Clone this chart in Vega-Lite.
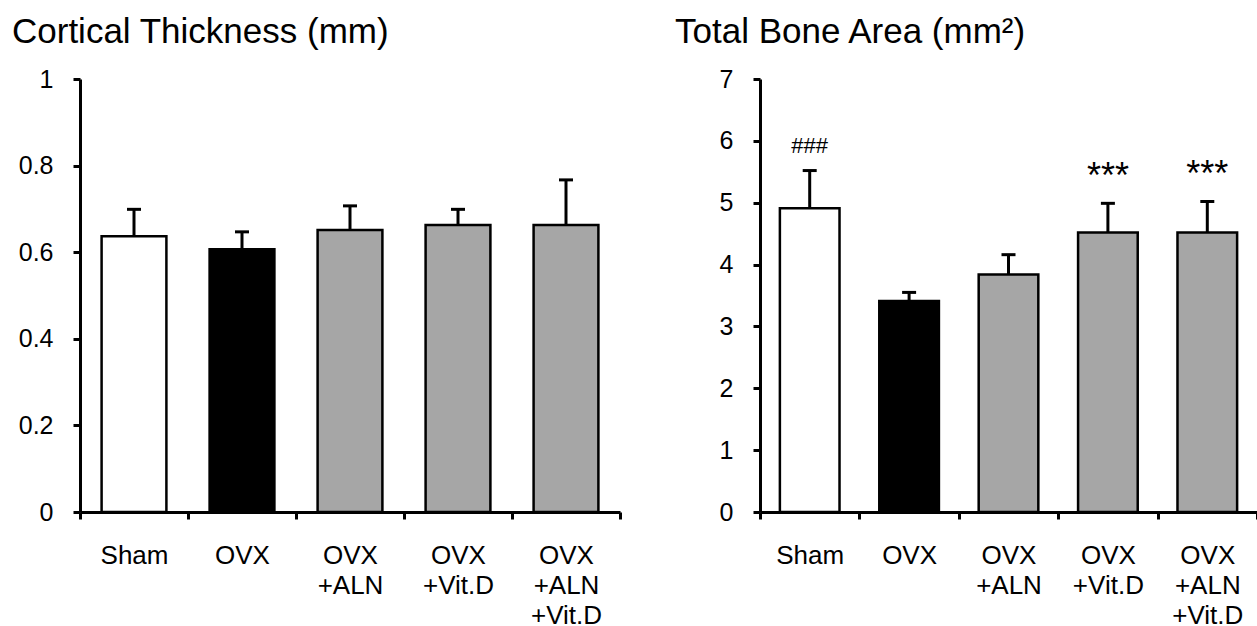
{
  "$schema": "https://vega.github.io/schema/vega-lite/v6.json",
  "padding": {"left": 12, "top": 15, "right": 0, "bottom": 0},
  "background": "white",
  "datasets": {
    "thickness": [
      {"group": "Sham", "mean": 0.637, "err": 0.699},
      {"group": "OVX", "mean": 0.607, "err": 0.647},
      {"group": "OVX\n+ALN", "mean": 0.651, "err": 0.707},
      {"group": "OVX\n+Vit.D", "mean": 0.663, "err": 0.699},
      {"group": "OVX\n+ALN\n+Vit.D", "mean": 0.663, "err": 0.767}
    ],
    "area": [
      {"group": "Sham", "mean": 4.91, "err": 5.52, "sig": "###"},
      {"group": "OVX", "mean": 3.41, "err": 3.55, "sig": ""},
      {"group": "OVX\n+ALN", "mean": 3.84, "err": 4.16, "sig": ""},
      {"group": "OVX\n+Vit.D", "mean": 4.52, "err": 4.99, "sig": "***"},
      {"group": "OVX\n+ALN\n+Vit.D", "mean": 4.52, "err": 5.02, "sig": "***"}
    ]
  },
  "config": {
    "font": "Liberation Sans",
    "view": {"stroke": null},
    "axis": {
      "grid": false,
      "domainColor": "black",
      "domainWidth": 3,
      "tickColor": "black",
      "tickWidth": 3,
      "tickSize": 7,
      "labelColor": "black",
      "labelFont": "Liberation Sans",
      "labelFontSize": 25,
      "title": null
    },
    "title": {
      "fontSize": 35,
      "fontWeight": "normal",
      "font": "Liberation Sans",
      "color": "black",
      "anchor": "start",
      "frame": "group",
      "baseline": "alphabetic"
    }
  },
  "spacing": 53,
  "hconcat": [
    {
      "width": 540,
      "height": 433,
      "title": {"text": "Cortical Thickness (mm)", "dx": -68, "offset": 17},
      "data": {"name": "thickness"},
      "encoding": {
        "x": {
          "field": "group",
          "type": "nominal",
          "sort": null,
          "scale": {"paddingInner": 0, "paddingOuter": 0},
          "axis": {
            "labelAngle": 0,
            "tickBand": "extent",
            "labelExpr": "split(datum.label, '\\n')",
            "labelFontSize": 26,
            "labelPadding": 23,
            "labelLineHeight": 30,
            "labelBaseline": "top"
          }
        }
      },
      "layer": [
        {
          "mark": {"type": "rule", "strokeWidth": 3, "color": "black"},
          "encoding": {
            "y": {"field": "mean", "type": "quantitative"},
            "y2": {"field": "err"}
          }
        },
        {
          "mark": {"type": "tick", "size": 14, "thickness": 3, "color": "black", "opacity": 1},
          "encoding": {
            "y": {"field": "err", "type": "quantitative"}
          }
        },
        {
          "mark": {"type": "bar", "width": {"band": 0.6}, "stroke": "black", "strokeWidth": 2.5},
          "encoding": {
            "y": {
              "field": "mean",
              "type": "quantitative",
              "scale": {"domain": [0, 1], "nice": false},
              "axis": {"values": [0, 0.2, 0.4, 0.6, 0.8, 1], "format": "~g", "labelPadding": 20}
            },
            "color": {
              "field": "group",
              "type": "nominal",
              "legend": null,
              "scale": {
                "domain": ["Sham", "OVX", "OVX\n+ALN", "OVX\n+Vit.D", "OVX\n+ALN\n+Vit.D"],
                "range": ["#ffffff", "#000000", "#a6a6a6", "#a6a6a6", "#a6a6a6"]
              }
            }
          }
        }
      ]
    },
    {
      "width": 497,
      "height": 433,
      "title": {"text": "Total Bone Area (mm²)", "dx": -85, "offset": 17},
      "data": {"name": "area"},
      "encoding": {
        "x": {
          "field": "group",
          "type": "nominal",
          "sort": null,
          "scale": {"paddingInner": 0, "paddingOuter": 0},
          "axis": {
            "labelAngle": 0,
            "tickBand": "extent",
            "labelExpr": "split(datum.label, '\\n')",
            "labelFontSize": 26,
            "labelPadding": 23,
            "labelLineHeight": 30,
            "labelBaseline": "top"
          }
        }
      },
      "layer": [
        {
          "mark": {"type": "rule", "strokeWidth": 3, "color": "black"},
          "encoding": {
            "y": {"field": "mean", "type": "quantitative"},
            "y2": {"field": "err"}
          }
        },
        {
          "mark": {"type": "tick", "size": 14, "thickness": 3, "color": "black", "opacity": 1},
          "encoding": {
            "y": {"field": "err", "type": "quantitative"}
          }
        },
        {
          "mark": {"type": "bar", "width": {"band": 0.6}, "stroke": "black", "strokeWidth": 2.5},
          "encoding": {
            "y": {
              "field": "mean",
              "type": "quantitative",
              "scale": {"domain": [0, 7], "nice": false},
              "axis": {"values": [0, 1, 2, 3, 4, 5, 6, 7], "format": "~g", "labelPadding": 20}
            },
            "color": {
              "field": "group",
              "type": "nominal",
              "legend": null,
              "scale": {
                "domain": ["Sham", "OVX", "OVX\n+ALN", "OVX\n+Vit.D", "OVX\n+ALN\n+Vit.D"],
                "range": ["#ffffff", "#000000", "#a6a6a6", "#a6a6a6", "#a6a6a6"]
              }
            }
          }
        },
        {
          "transform": [{"filter": "datum.sig == '###'"}],
          "mark": {"type": "text", "fontSize": 22, "baseline": "alphabetic", "dy": -18, "color": "black"},
          "encoding": {
            "y": {"field": "err", "type": "quantitative"},
            "text": {"field": "sig"}
          }
        },
        {
          "transform": [{"filter": "datum.sig == '***'"}],
          "mark": {"type": "text", "fontSize": 36, "baseline": "alphabetic", "dy": -15, "color": "black"},
          "encoding": {
            "y": {"field": "err", "type": "quantitative"},
            "text": {"field": "sig"}
          }
        }
      ]
    }
  ]
}
